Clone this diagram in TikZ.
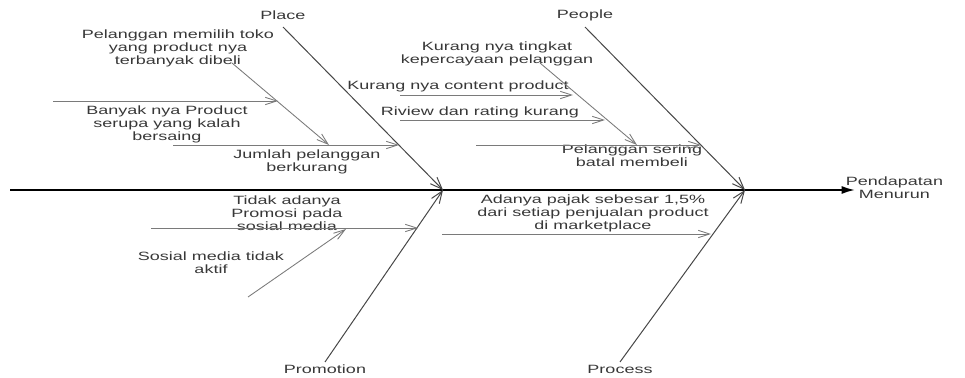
\documentclass[tikz,border=0pt]{standalone}
\usepackage{fontspec}
\setmainfont{Liberation Sans}[FakeStretch=1.5]
\usepackage{tikz}
\usetikzlibrary{arrows.meta,positioning}

\begin{document}
\begin{tikzpicture}[
    x=0.75pt,
    y=-0.75pt,
    node distance=2pt,
    cause/.style={
        align=center,
        inner sep=0pt,
        text=black!78,
        font=\fontsize{9}{9.75}\selectfont
    },
    bone/.style={-{Straight Barb[length=9pt,width=7pt]},draw=black!72,line width=0.75pt},
    twig/.style={-{Straight Barb[length=8.5pt,width=5.5pt]},draw=black!52,line width=0.65pt},
    spine/.style={-{Latex[length=10pt,width=6pt]},line width=1.4pt}
]
    \useasboundingbox (0,0) rectangle (965,378);

    % Points
    \coordinate (tail) at (10,190);
    \coordinate (head) at (855,190);
    \coordinate (hubA) at (443,190);
    \coordinate (hubB) at (745,190);
    \coordinate (placeS) at (283,27);
    \coordinate (peopleS) at (585,27);
    \coordinate (promS) at (325,362);
    \coordinate (procS) at (620,362);

    \coordinate (jumS) at (173,145);
    \coordinate (jumE) at (399,145);
    \coordinate (pilS) at (232,63);
    \coordinate (pilE) at (329,145);
    \coordinate (banS) at (53,101);
    \coordinate (banE) at (278,101);

    \coordinate (serS) at (476,145);
    \coordinate (serE) at (701,145);
    \coordinate (kepS) at (540,63);
    \coordinate (kepE) at (637,145);
    \coordinate (conS) at (400,95);
    \coordinate (conE) at (573,95);
    \coordinate (rivS) at (400,120);
    \coordinate (rivE) at (605,120);

    \coordinate (tidS) at (151,228);
    \coordinate (tidE) at (418,228);
    \coordinate (sosS) at (248,297);
    \coordinate (sosE) at (346,229);

    \coordinate (pajS) at (442,234);
    \coordinate (pajE) at (711,234);

    % Nodes
    \node[cause,above=5pt of placeS] (place) {Place};
    \node[cause,above=4pt of peopleS] (people) {People};
    \node[cause,below=2pt of promS] (promotion) {Promotion};
    \node[cause,below=2pt of procS] (process) {Process};
    \node[cause,right=-7pt of head,yshift=2pt] (effect) {Pendapatan\\Menurun};

    \node[cause] (memilih) at (178,48) {Pelanggan memilih toko\\yang product nya\\terbanyak dibeli};
    \node[cause] (banyak) at (167,124) {Banyak nya Product\\serupa yang kalah\\bersaing};
    \node[cause] (jumlah) at (307,162) {Jumlah pelanggan\\berkurang};

    \node[cause] (percaya) at (497,54) {Kurang nya tingkat\\kepercayaan pelanggan};
    \node[cause] (content) at (458,86) {Kurang nya content product};
    \node[cause] (riview) at (480,112) {Riview dan rating kurang};
    \node[cause] (batal) at (632,156) {Pelanggan sering\\batal membeli};

    \node[cause] (promosi) at (287,213) {Tidak adanya\\Promosi pada\\sosial media};
    \node[cause] (sosmed) at (211,263) {Sosial media tidak\\aktif};

    \node[cause] (pajak) at (593,213) {Adanya pajak sebesar 1,5\%\\dari setiap penjualan product\\di marketplace};

    % Arrows
    \draw[spine] (tail) -- (head);
    \draw[bone] (placeS) -- (hubA);
    \draw[bone] (promS) -- (hubA);
    \draw[bone] (peopleS) -- (hubB);
    \draw[bone] (procS) -- (hubB);

    \draw[twig] (jumS) -- (jumE);
    \draw[twig] (pilS) -- (pilE);
    \draw[twig] (banS) -- (banE);

    \draw[twig] (serS) -- (serE);
    \draw[twig] (kepS) -- (kepE);
    \draw[twig] (conS) -- (conE);
    \draw[twig] (rivS) -- (rivE);

    \draw[twig] (tidS) -- (tidE);
    \draw[twig] (sosS) -- (sosE);

    \draw[twig] (pajS) -- (pajE);
\end{tikzpicture}
\end{document}
